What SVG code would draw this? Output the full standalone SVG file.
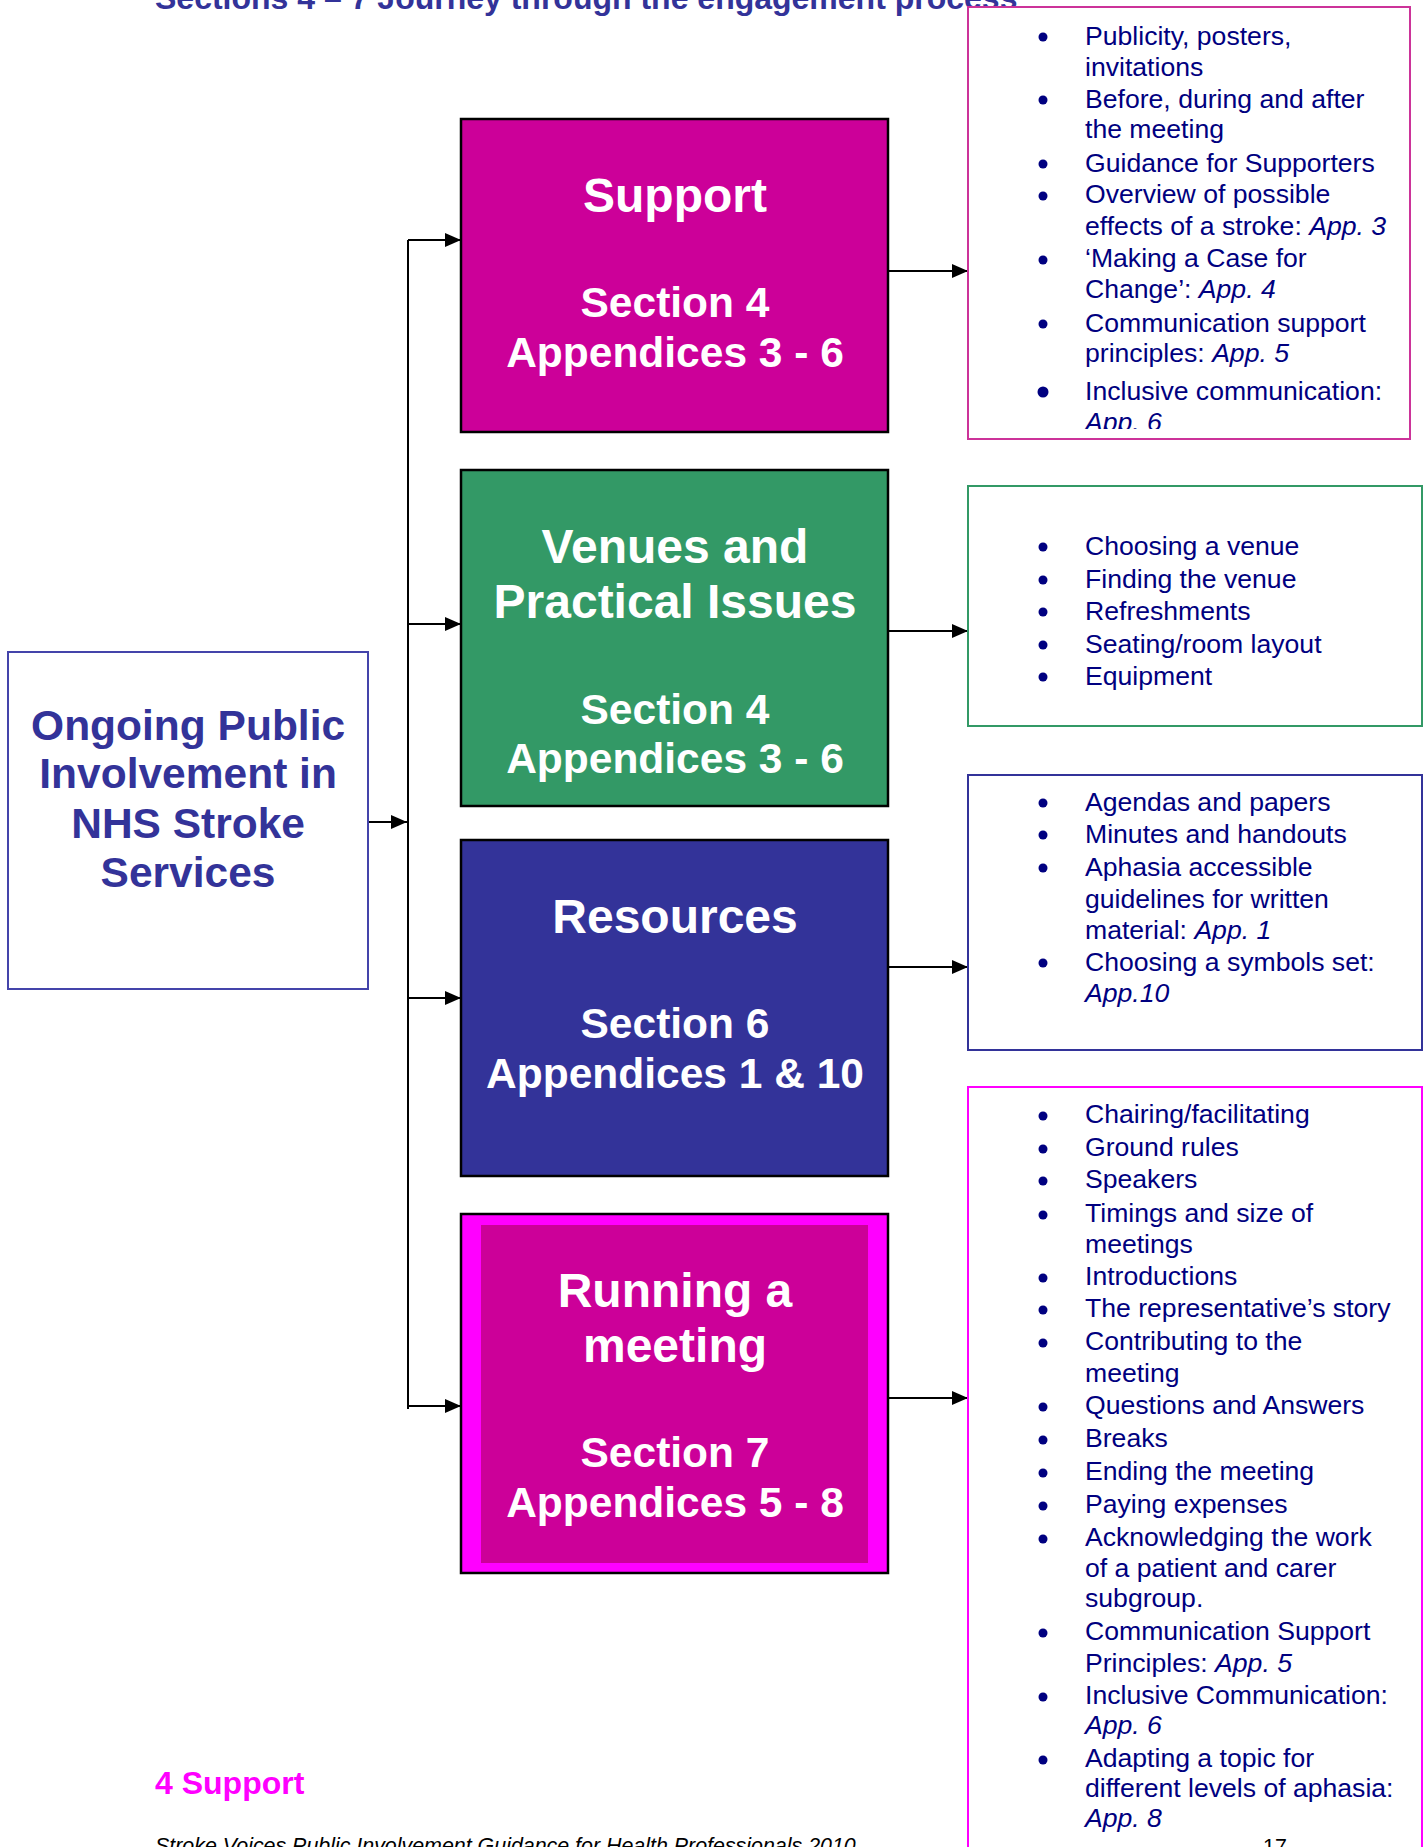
<svg xmlns="http://www.w3.org/2000/svg" width="1426" height="1847" viewBox="0 0 1426 1847">
<style>
.lst{font-family:"Liberation Sans",Arial,sans-serif;font-size:26.6px;fill:#000080}
.it{font-style:italic}
.bt{font-family:"Liberation Sans",Arial,sans-serif;font-weight:bold;fill:#ffffff;text-anchor:middle}
.t1{font-size:48px}
.t2{font-size:42.5px}
.con{stroke:#000;stroke-width:2;fill:none}
.bul{fill:#000080}
</style>
<defs>
<marker id="ah" markerWidth="16" markerHeight="14" refX="16" refY="7" orient="auto" markerUnits="userSpaceOnUse">
<path d="M0,0 L16,7 L0,14 Z" fill="#000"/>
</marker>
<clipPath id="clipSup"><rect x="968" y="7" width="442" height="422"/></clipPath>
</defs>
<rect width="1426" height="1847" fill="#fff"/>

<text x="155" y="9" font-family="Liberation Sans,Arial,sans-serif" font-weight="bold" font-size="32" fill="#333399">Sections 4 – 7 Journey through the engagement process</text>

<g id="connectors">
<line class="con" x1="408" y1="240" x2="408" y2="1409"/>
<line class="con" x1="368" y1="822" x2="407" y2="822" marker-end="url(#ah)"/>
<line class="con" x1="408" y1="240" x2="461" y2="240" marker-end="url(#ah)"/>
<line class="con" x1="408" y1="624" x2="461" y2="624" marker-end="url(#ah)"/>
<line class="con" x1="408" y1="998" x2="461" y2="998" marker-end="url(#ah)"/>
<line class="con" x1="408" y1="1406" x2="461" y2="1406" marker-end="url(#ah)"/>
<line class="con" x1="888" y1="271" x2="968" y2="271" marker-end="url(#ah)"/>
<line class="con" x1="888" y1="631" x2="968" y2="631" marker-end="url(#ah)"/>
<line class="con" x1="888" y1="967" x2="968" y2="967" marker-end="url(#ah)"/>
<line class="con" x1="888" y1="1398" x2="968" y2="1398" marker-end="url(#ah)"/>
</g>

<g id="ongoing">
<rect x="8" y="652" width="360" height="337" fill="#fff" stroke="#4444aa" stroke-width="2"/>
<text font-family="Liberation Sans,Arial,sans-serif" font-weight="bold" font-size="42.5" fill="#333399" text-anchor="middle">
<tspan x="194" y="740">Ongoing Public</tspan>
<tspan x="194" y="788">Involvement in</tspan>
<tspan x="194" y="838">NHS Stroke</tspan>
<tspan x="188" y="887">Services</tspan>
</text>
</g>

<g id="support">
<rect x="461" y="119" width="427" height="313" fill="#cc0099" stroke="#000" stroke-width="2.5"/>
<text class="bt t1" x="675" y="212">Support</text>
<text class="bt t2" x="675" y="317">Section 4</text>
<text class="bt t2" x="675" y="367">Appendices 3 - 6</text>
</g>

<g id="venues">
<rect x="461" y="470" width="427" height="336" fill="#339966" stroke="#000" stroke-width="2.5"/>
<text class="bt t1" x="675" y="563">Venues and</text>
<text class="bt t1" x="675" y="618">Practical Issues</text>
<text class="bt t2" x="675" y="724">Section 4</text>
<text class="bt t2" x="675" y="773">Appendices 3 - 6</text>
</g>

<g id="resources">
<rect x="461" y="840" width="427" height="336" fill="#333399" stroke="#000" stroke-width="2.5"/>
<text class="bt t1" x="675" y="933">Resources</text>
<text class="bt t2" x="675" y="1038">Section 6</text>
<text class="bt t2" x="675" y="1088">Appendices 1 &amp; 10</text>
</g>

<g id="running">
<rect x="461" y="1214" width="427" height="359" fill="#ff00ff" stroke="#000" stroke-width="2.5"/>
<rect x="481" y="1225" width="387" height="338" fill="#cc0099"/>
<text class="bt t1" x="675" y="1307">Running a</text>
<text class="bt t1" x="675" y="1362">meeting</text>
<text class="bt t2" x="675" y="1467">Section 7</text>
<text class="bt t2" x="675" y="1517">Appendices 5 - 8</text>
</g>

<g id="support-list">
<rect x="968" y="7" width="442" height="432" fill="#fff" stroke="#cc3399" stroke-width="2"/>
<g clip-path="url(#clipSup)">
<circle class="bul" cx="1043" cy="37" r="4.5"/>
<circle class="bul" cx="1043" cy="100" r="4.5"/>
<circle class="bul" cx="1043" cy="164" r="4.5"/>
<circle class="bul" cx="1043" cy="196" r="4.5"/>
<circle class="bul" cx="1043" cy="260" r="4.5"/>
<circle class="bul" cx="1043" cy="324" r="4.5"/>
<circle class="bul" cx="1043" cy="392" r="5.5"/>
<text class="lst">
<tspan x="1085" y="45">Publicity, posters,</tspan>
<tspan x="1085" y="76">invitations</tspan>
<tspan x="1085" y="108">Before, during and after</tspan>
<tspan x="1085" y="138">the meeting</tspan>
<tspan x="1085" y="172">Guidance for Supporters</tspan>
<tspan x="1085" y="203">Overview of possible</tspan>
<tspan x="1085" y="235">effects of a stroke: <tspan class="it">App. 3</tspan></tspan>
<tspan x="1085" y="267">‘Making a Case for</tspan>
<tspan x="1085" y="298">Change’: <tspan class="it">App. 4</tspan></tspan>
<tspan x="1085" y="332">Communication support</tspan>
<tspan x="1085" y="362">principles: <tspan class="it">App. 5</tspan></tspan>
<tspan x="1085" y="400">Inclusive communication:</tspan>
<tspan x="1085" y="431" class="it">App. 6</tspan>
</text>
</g>
</g>

<g id="venues-list">
<rect x="968" y="486" width="454" height="240" fill="#fff" stroke="#339966" stroke-width="2"/>
<circle class="bul" cx="1043" cy="547" r="4.5"/>
<circle class="bul" cx="1043" cy="580" r="4.5"/>
<circle class="bul" cx="1043" cy="612" r="4.5"/>
<circle class="bul" cx="1043" cy="645" r="4.5"/>
<circle class="bul" cx="1043" cy="677" r="4.5"/>
<text class="lst">
<tspan x="1085" y="555">Choosing a venue</tspan>
<tspan x="1085" y="588">Finding the venue</tspan>
<tspan x="1085" y="620">Refreshments</tspan>
<tspan x="1085" y="653">Seating/room layout</tspan>
<tspan x="1085" y="685">Equipment</tspan>
</text>
</g>

<g id="resources-list">
<rect x="968" y="775" width="454" height="275" fill="#fff" stroke="#333399" stroke-width="2"/>
<circle class="bul" cx="1043" cy="803" r="4.5"/>
<circle class="bul" cx="1043" cy="835" r="4.5"/>
<circle class="bul" cx="1043" cy="868" r="4.5"/>
<circle class="bul" cx="1043" cy="963" r="4.5"/>
<text class="lst">
<tspan x="1085" y="811">Agendas and papers</tspan>
<tspan x="1085" y="843">Minutes and handouts</tspan>
<tspan x="1085" y="876">Aphasia accessible</tspan>
<tspan x="1085" y="908">guidelines for written</tspan>
<tspan x="1085" y="939">material: <tspan class="it">App. 1</tspan></tspan>
<tspan x="1085" y="971">Choosing a symbols set:</tspan>
<tspan x="1085" y="1002" class="it">App.10</tspan>
</text>
</g>

<g id="running-list">
<path d="M968,1870 L968,1087 L1422,1087 L1422,1870" fill="#fff" stroke="#ff00ff" stroke-width="2"/>
<circle class="bul" cx="1043" cy="1116" r="4.5"/>
<circle class="bul" cx="1043" cy="1149" r="4.5"/>
<circle class="bul" cx="1043" cy="1181" r="4.5"/>
<circle class="bul" cx="1043" cy="1215" r="4.5"/>
<circle class="bul" cx="1043" cy="1278" r="4.5"/>
<circle class="bul" cx="1043" cy="1310" r="4.5"/>
<circle class="bul" cx="1043" cy="1343" r="4.5"/>
<circle class="bul" cx="1043" cy="1407" r="4.5"/>
<circle class="bul" cx="1043" cy="1440" r="4.5"/>
<circle class="bul" cx="1043" cy="1473" r="4.5"/>
<circle class="bul" cx="1043" cy="1506" r="4.5"/>
<circle class="bul" cx="1043" cy="1539" r="4.5"/>
<circle class="bul" cx="1043" cy="1633" r="4.5"/>
<circle class="bul" cx="1043" cy="1697" r="4.5"/>
<circle class="bul" cx="1043" cy="1760" r="4.5"/>
<text class="lst">
<tspan x="1085" y="1123">Chairing/facilitating</tspan>
<tspan x="1085" y="1156">Ground rules</tspan>
<tspan x="1085" y="1188">Speakers</tspan>
<tspan x="1085" y="1222">Timings and size of</tspan>
<tspan x="1085" y="1253">meetings</tspan>
<tspan x="1085" y="1285">Introductions</tspan>
<tspan x="1085" y="1317">The representative’s story</tspan>
<tspan x="1085" y="1350">Contributing to the</tspan>
<tspan x="1085" y="1382">meeting</tspan>
<tspan x="1085" y="1414">Questions and Answers</tspan>
<tspan x="1085" y="1447">Breaks</tspan>
<tspan x="1085" y="1480">Ending the meeting</tspan>
<tspan x="1085" y="1513">Paying expenses</tspan>
<tspan x="1085" y="1546">Acknowledging the work</tspan>
<tspan x="1085" y="1577">of a patient and carer</tspan>
<tspan x="1085" y="1607">subgroup.</tspan>
<tspan x="1085" y="1640">Communication Support</tspan>
<tspan x="1085" y="1672">Principles: <tspan class="it">App. 5</tspan></tspan>
<tspan x="1085" y="1704">Inclusive Communication:</tspan>
<tspan x="1085" y="1734" class="it">App. 6</tspan>
<tspan x="1085" y="1767">Adapting a topic for</tspan>
<tspan x="1085" y="1797">different levels of aphasia:</tspan>
<tspan x="1085" y="1827" class="it">App. 8</tspan>
</text>
</g>

<text x="155" y="1794" font-family="Liberation Sans,Arial,sans-serif" font-weight="bold" font-size="32" fill="#ff00ff">4 Support</text>
<text x="155" y="1853" font-family="Liberation Sans,Arial,sans-serif" font-style="italic" font-size="21.4" fill="#000">Stroke Voices Public Involvement Guidance for Health Professionals 2010</text>
<text x="1263" y="1854" font-family="Liberation Sans,Arial,sans-serif" font-size="21.4" fill="#000">17</text>
</svg>
